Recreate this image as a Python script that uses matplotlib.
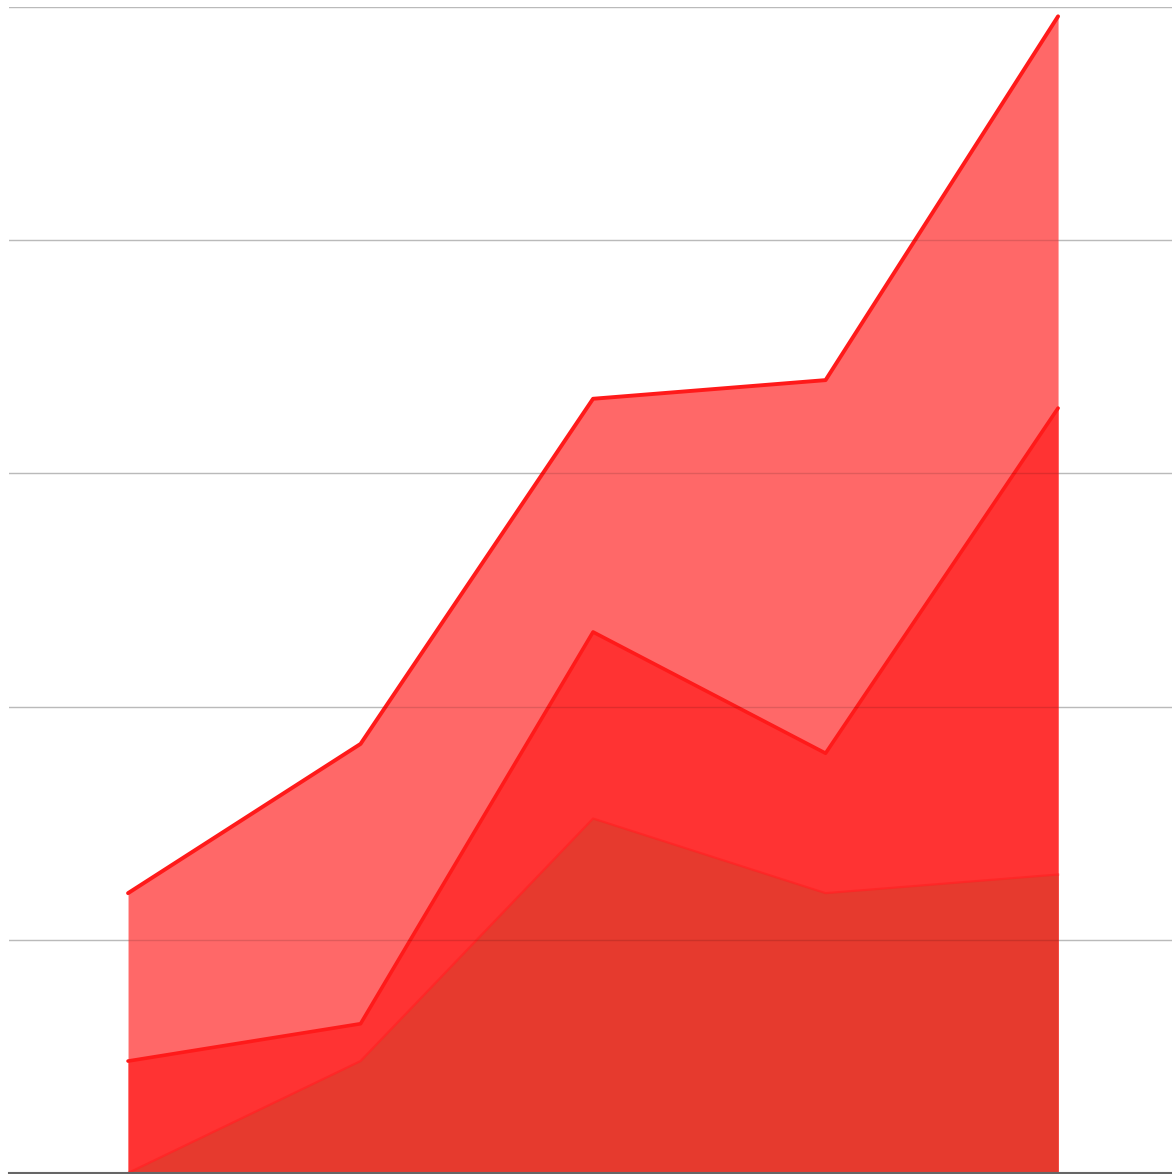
import matplotlib
matplotlib.use("Agg")
import matplotlib.pyplot as plt

x = [0, 1, 2, 3, 4]
top = [1.20, 1.84, 3.32, 3.40, 4.96]
middle = [0.48, 0.64, 2.32, 1.80, 3.28]
bottom = [0.0, 0.48, 1.52, 1.20, 1.28]

fig = plt.figure(figsize=(11.72, 11.74), dpi=100)
ax = fig.add_axes([9 / 1172, 1 / 1174, 1 - 9 / 1172, 1166 / 1174])

# gridlines behind the areas, plus a faint copy on top so they show through
for yv in [1, 2, 3, 4, 5]:
    ax.axhline(yv, color='#d4d4d4', lw=1, zorder=0)
    ax.axhline(yv, color='black', alpha=0.12, lw=1, zorder=7)

# areas, back to front
ax.fill_between(x, 0, top, color='#ff6868', lw=0, zorder=1)
ax.plot(x, top, color='#ff1a1a', lw=2.8, solid_capstyle='round', zorder=2)
ax.fill_between(x, 0, middle, color='#ff3333', lw=0, zorder=3)
ax.plot(x, middle, color='#ff1a1a', lw=2.6, solid_capstyle='round', zorder=4)
ax.fill_between(x, 0, bottom, color='#e63a2e', lw=0, zorder=5)
ax.plot(x, bottom, color='#ff2020', lw=1.6, alpha=0.6, zorder=6)

ax.set_xlim(-0.512, 4.49)
ax.set_ylim(0, 5)
for s in ['top', 'right', 'left']:
    ax.spines[s].set_visible(False)
ax.spines['bottom'].set_color('#666666')
ax.spines['bottom'].set_linewidth(1.5)
ax.spines['bottom'].set_zorder(8)
ax.set_xticks([])
ax.set_yticks([])

fig.savefig('out.png', dpi=100)
